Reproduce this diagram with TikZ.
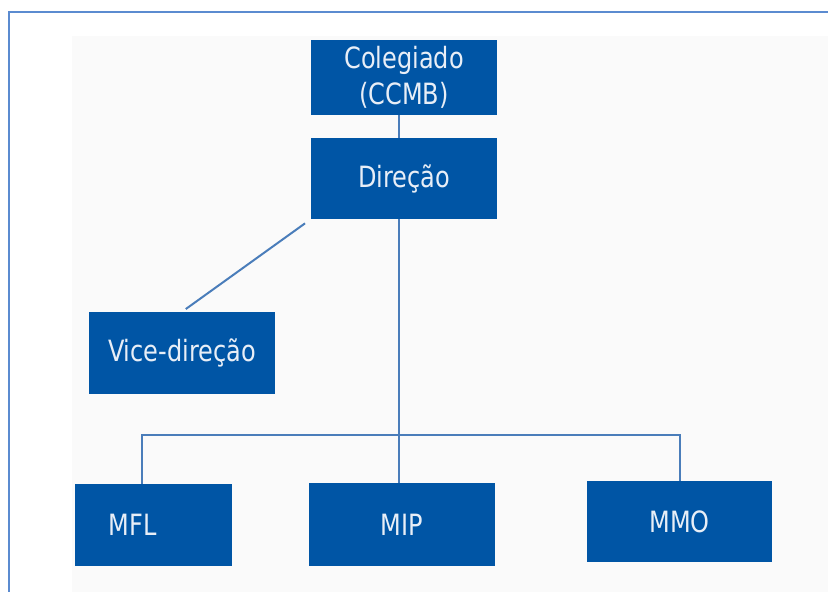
\documentclass[tikz,border=0pt]{standalone}
\usepackage{fontspec}
\setmainfont{DejaVu Sans}
\definecolor{boxblue}{HTML}{0055A5}
\definecolor{linkblue}{HTML}{4A7DBA}
\definecolor{framblue}{HTML}{5B8BD0}
\definecolor{txtwhite}{HTML}{E8EEF7}
\definecolor{paper}{HTML}{FAFAFA}
\newcommand{\tall}[1]{\scalebox{1}[1.22]{#1}}
\begin{document}
\begin{tikzpicture}[x=0.03cm, y=-0.03cm,
    unit/.style={fill=boxblue, text=txtwhite, inner sep=0pt, align=center,
        font=\fontsize{20.5}{31}\selectfont},
    link/.style={draw=linkblue, line width=1.7pt}]
            \useasboundingbox (0,0) rectangle (828,592);

            % Draw the page frame and the pasted picture
            \fill[paper] (72,36) rectangle (828,592);
            \draw[framblue, line width=1.8pt] (9,592) -- (9,12) -- (828,12);

            % Draw the units
            \node[unit, minimum width=5.58cm, minimum height=2.25cm] (col) at (404,77.5) {\tall{Colegiado}\\\tall{(CCMB)}};
            \node[unit, minimum width=5.58cm, minimum height=2.43cm] (dir) at (404,178.5) {\tall{Direção}};
            \node[unit, minimum width=5.58cm, minimum height=2.46cm] (vice) at (182,353) {\tall{Vice-direção}};
            \node[unit, minimum width=4.71cm, minimum height=2.46cm,
                text width=2.67cm, inner xsep=1.02cm, align=left] (mfl) at (153.5,525) {\tall{MFL}};
            \node[unit, minimum width=5.58cm, minimum height=2.49cm] (mip) at (402,524.5) {\tall{MIP}};
            \node[unit, minimum width=5.55cm, minimum height=2.43cm] (mmo) at (679.5,521.5) {\tall{MMO}};

            % Mark the ends of the bar
            \coordinate (trunk) at (399,435);
            \coordinate (barL) at (142,435);
            \coordinate (barR) at (680,435);

            % Draw the links
            \draw[link] (col.south -| trunk) -- (dir.north -| trunk);
            \draw[link, shorten <=6pt, shorten >=4pt] (dir.south west) -- (vice.north);
            \draw[link] (dir.south -| trunk) -- (mip.north -| trunk);
            \draw[link] (mfl.north -| barL) -- (barL) -- (barR) -- (mmo.north -| barR);

        \end{tikzpicture}
\end{document}
